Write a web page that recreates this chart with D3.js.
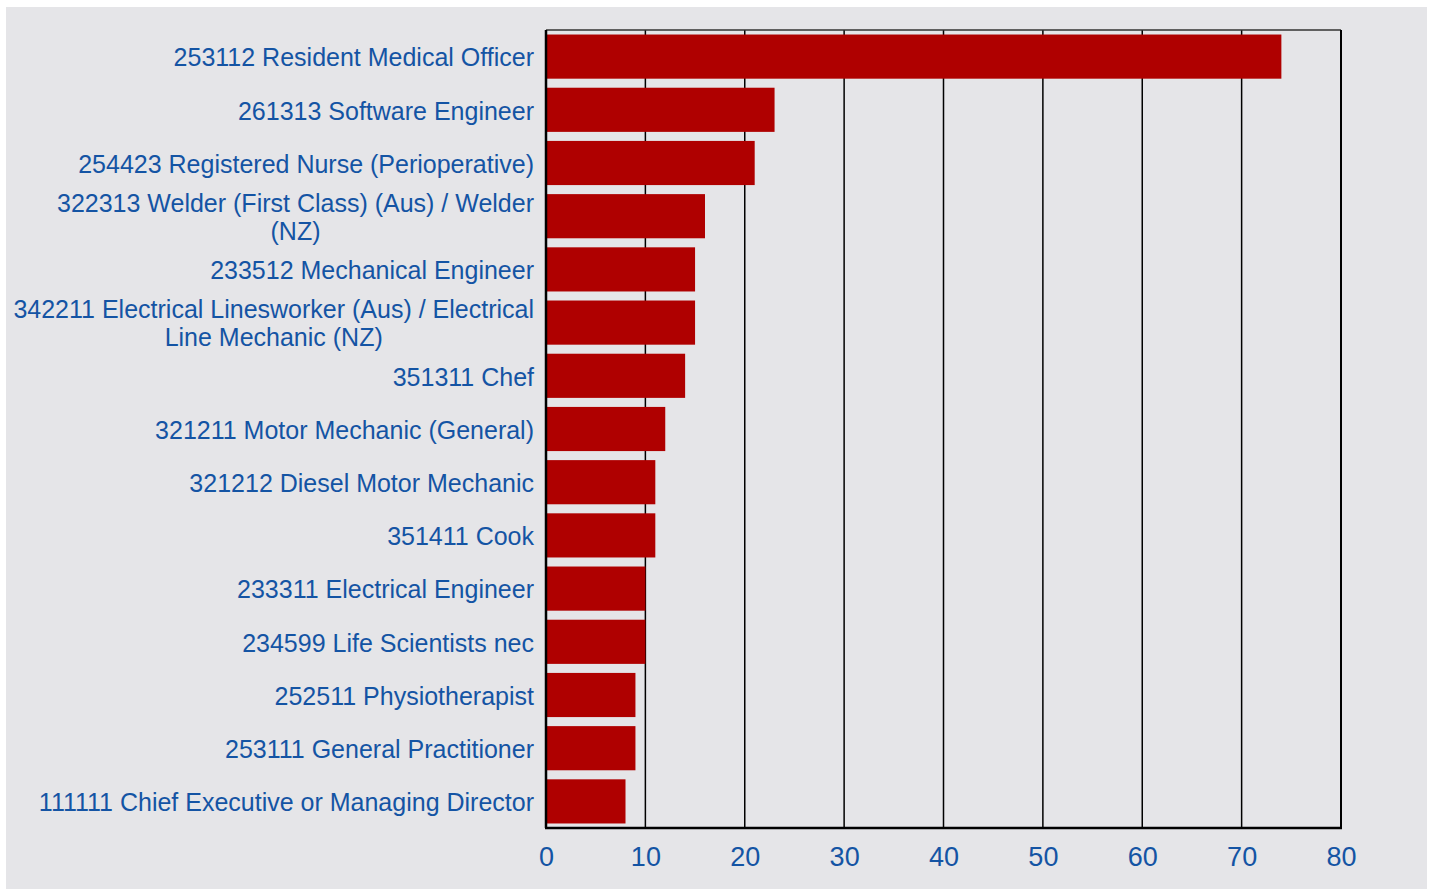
<!DOCTYPE html>
<html>
<head>
<meta charset="utf-8">
<script src="https://cdn.jsdelivr.net/npm/d3@7"></script>
<style>
  body { margin: 0; background: #ffffff; }
  svg { display: block; }
</style>
</head>
<body>
<div id="chart"></div>
<script>
// occupations, top to bottom
const occupations = [
  "253112 Resident Medical Officer",
  "261313 Software Engineer",
  "254423 Registered Nurse (Perioperative)",
  "322313 Welder (First Class) (Aus) / Welder (NZ)",
  "233512 Mechanical Engineer",
  "342211 Electrical Linesworker (Aus) / Electrical Line Mechanic (NZ)",
  "351311 Chef",
  "321211 Motor Mechanic (General)",
  "321212 Diesel Motor Mechanic",
  "351411 Cook",
  "233311 Electrical Engineer",
  "234599 Life Scientists nec",
  "252511 Physiotherapist",
  "253111 General Practitioner",
  "111111 Chief Executive or Managing Director"
];
const counts = [74, 23, 21, 16, 15, 15, 14, 12, 11, 11, 10, 10, 9, 9, 8];
const xTicks = [0, 10, 20, 30, 40, 50, 60, 70, 80];

const width = 1431, height = 889;
const margin = {top: 30, right: 90, bottom: 61, left: 546};
const textColor = "#1454a4";

const svg = d3.select("#chart").append("svg")
  .attr("width", width)
  .attr("height", height);

// grey panel
svg.append("rect")
  .attr("x", 6).attr("y", 7)
  .attr("width", 1421).attr("height", height - 7)
  .attr("fill", "#e5e5e8");

const x = d3.scaleLinear()
  .domain([0, 80])
  .range([margin.left, width - margin.right]);

const y = d3.scaleBand()
  .domain(occupations)
  .range([margin.top, height - margin.bottom])
  .paddingInner(0.17)
  .paddingOuter(0.085);

// vertical grid
svg.append("g")
  .selectAll("line")
  .data(xTicks.slice(1, -1))
  .join("line")
  .attr("x1", d => x(d)).attr("x2", d => x(d))
  .attr("y1", margin.top).attr("y2", height - margin.bottom)
  .attr("stroke", "#000")
  .attr("stroke-width", 1.5);

// bars
svg.append("g")
  .selectAll("rect")
  .data(counts)
  .join("rect")
  .attr("x", x(0))
  .attr("y", (d, i) => y(occupations[i]))
  .attr("width", d => x(d) - x(0))
  .attr("height", y.bandwidth())
  .attr("fill", "#af0000");

// frame
const x0 = x(0), x1 = x(80), y0 = margin.top, y1 = height - margin.bottom;
svg.append("line").attr("x1", x0).attr("x2", x1).attr("y1", y0).attr("y2", y0)
  .attr("stroke", "#333").attr("stroke-width", 1.5);
svg.append("line").attr("x1", x1).attr("x2", x1).attr("y1", y0).attr("y2", y1)
  .attr("stroke", "#000").attr("stroke-width", 2);
svg.append("line").attr("x1", x0).attr("x2", x0).attr("y1", y0).attr("y2", y1)
  .attr("stroke", "#000").attr("stroke-width", 2.5);
svg.append("line").attr("x1", x0 - 1).attr("x2", x1 + 1).attr("y1", y1).attr("y2", y1)
  .attr("stroke", "#000").attr("stroke-width", 2.5);

// x axis labels
const xAxis = d3.axisBottom(x).tickValues(xTicks).tickSize(0).tickPadding(19);
svg.append("g")
  .attr("transform", `translate(0,${y1})`)
  .call(xAxis)
  .call(g => g.select(".domain").remove())
  .call(g => g.selectAll("text")
    .attr("fill", textColor)
    .style("font-family", "Liberation Sans, Arial, sans-serif")
    .style("font-size", "27px"));

// y labels, wrapped and centred within a right-aligned block
const labelRight = x0 - 12;
const maxLabelW = 526;
const lineH = 28;
const labels = svg.append("g")
  .style("font-family", "Liberation Sans, Arial, sans-serif")
  .style("font-size", "25px")
  .attr("fill", textColor);

occupations.forEach(name => {
  const g = labels.append("g");
  const words = name.split(" ");
  const lines = [];
  let cur = [];
  const probe = g.append("text");
  words.forEach(w => {
    const test = cur.concat(w).join(" ");
    probe.text(test);
    if (probe.node().getComputedTextLength() > maxLabelW && cur.length) {
      lines.push(cur.join(" "));
      cur = [w];
    } else {
      cur.push(w);
    }
  });
  lines.push(cur.join(" "));
  probe.remove();

  const cy = y(name) + y.bandwidth() / 2 + 1;
  const texts = lines.map((ln, i) => g.append("text")
    .attr("y", cy + (i - (lines.length - 1) / 2) * lineH)
    .attr("dy", "0.35em")
    .text(ln));
  const widths = texts.map(t => t.node().getComputedTextLength());
  const blockW = d3.max(widths);
  texts.forEach(t => t.attr("x", labelRight - blockW / 2).attr("text-anchor", "middle"));
});
</script>
</body>
</html>
